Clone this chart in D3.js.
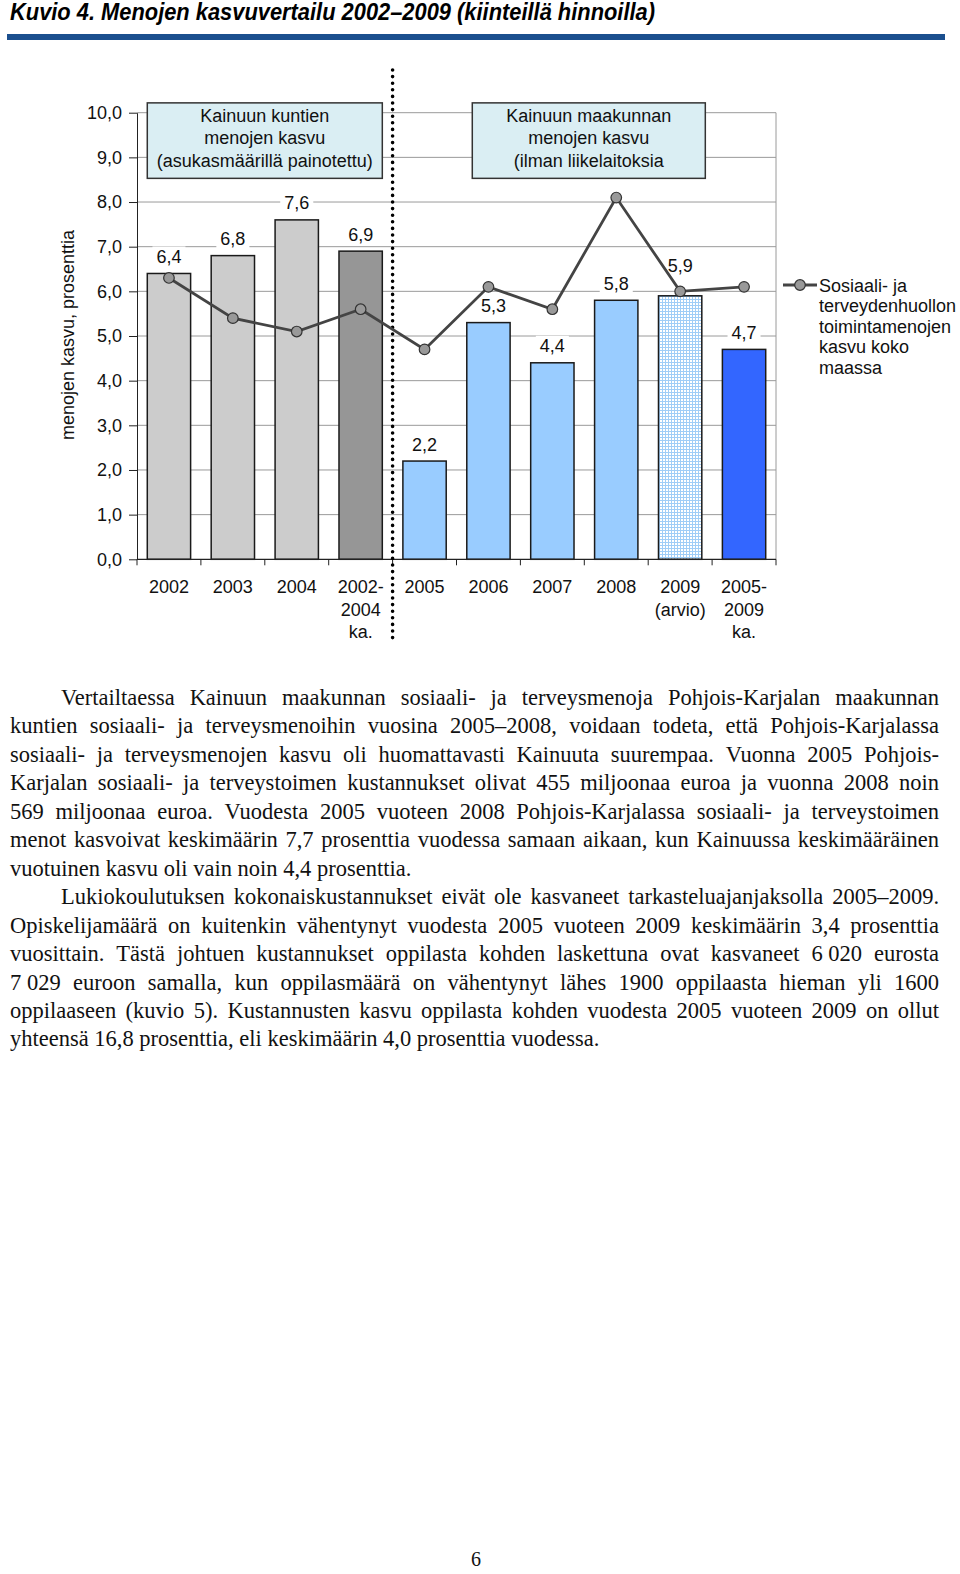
<!DOCTYPE html>
<html><head><meta charset="utf-8">
<script src="https://cdn.jsdelivr.net/npm/d3@7"></script>
<style>body{margin:0;background:#fff}svg{display:block}</style>
</head><body>
<script>
// ---------- data ----------
const categories = ["2002", "2003", "2004", "2002-\n2004\nka.", "2005", "2006", "2007", "2008", "2009\n(arvio)", "2005-\n2009\nka."];
const barValues  = [6.4, 6.8, 7.6, 6.9, 2.2, 5.3, 4.4, 5.8, 5.9, 4.7];
const lineValues = [6.3, 5.4, 5.1, 5.6, 4.7, 6.1, 5.6, 8.1, 6.0, 6.1];
const barPeriod  = ["kunnat", "kunnat", "kunnat", "kunnat", "maakunta", "maakunta", "maakunta", "maakunta", "maakunta", "maakunta"];
const barType    = ["vuosi", "vuosi", "vuosi", "ka", "vuosi", "vuosi", "vuosi", "vuosi", "arvio", "ka"];
const yTicks     = [0, 1, 2, 3, 4, 5, 6, 7, 8, 9, 10];
const lineName   = ["Sosiaali- ja", "terveydenhuollon", "toimintamenojen", "kasvu koko", "maassa"];
const box1Lines  = ["Kainuun kuntien", "menojen kasvu", "(asukasmäärillä painotettu)"];
const box2Lines  = ["Kainuun maakunnan", "menojen kasvu", "(ilman liikelaitoksia"];
const titleText  = "Kuvio 4. Menojen kasvuvertailu 2002–2009 (kiinteillä hinnoilla)";
const paragraphs = [
  ["Vertailtaessa Kainuun maakunnan sosiaali- ja terveysmenoja Pohjois-Karjalan maakunnan",
   "kuntien sosiaali- ja terveysmenoihin vuosina 2005–2008, voidaan todeta, että Pohjois-Karjalassa",
   "sosiaali- ja terveysmenojen kasvu oli huomattavasti Kainuuta suurempaa. Vuonna 2005 Pohjois-",
   "Karjalan sosiaali- ja terveystoimen kustannukset olivat 455 miljoonaa euroa ja vuonna 2008 noin",
   "569 miljoonaa euroa. Vuodesta 2005 vuoteen 2008 Pohjois-Karjalassa sosiaali- ja terveystoimen",
   "menot kasvoivat keskimäärin 7,7 prosenttia vuodessa samaan aikaan, kun Kainuussa keskimääräinen",
   "vuotuinen kasvu oli vain noin 4,4 prosenttia."],
  ["Lukiokoulutuksen kokonaiskustannukset eivät ole kasvaneet tarkasteluajanjaksolla 2005–2009.",
   "Opiskelijamäärä on kuitenkin vähentynyt vuodesta 2005 vuoteen 2009 keskimäärin 3,4 prosenttia",
   "vuosittain. Tästä johtuen kustannukset oppilasta kohden laskettuna ovat kasvaneet 6\u00A0020 eurosta",
   "7\u00A0029 euroon samalla, kun oppilasmäärä on vähentynyt lähes 1900 oppilaasta hieman yli 1600",
   "oppilaaseen (kuvio 5). Kustannusten kasvu oppilasta kohden vuodesta 2005 vuoteen 2009 on ollut",
   "yhteensä 16,8 prosenttia, eli keskimäärin 4,0 prosenttia vuodessa."]
];
const pageNumber = "6";

// ---------- setup ----------
const W = 960, H = 1574;
const SANS = "'Liberation Sans', Arial, sans-serif";
const SERIF = "'Liberation Serif', 'Times New Roman', serif";
const svg = d3.select("body").append("svg").attr("width", W).attr("height", H)
  .style("background", "#fff");
const fmt = v => d3.format(".1f")(v).replace(".", ",");

// pattern for estimate bar
const defs = svg.append("defs");
const pat = defs.append("pattern").attr("id", "checks").attr("patternUnits", "userSpaceOnUse")
  .attr("width", 3).attr("height", 3);
pat.append("rect").attr("width", 3).attr("height", 3).attr("fill", "#9fcdf7");
pat.append("rect").attr("width", 2).attr("height", 2).attr("fill", "#ffffff");

// title
svg.append("text").attr("x", 10).attr("y", 20).text(titleText)
  .attr("font-family", SANS).attr("font-weight", "bold").attr("font-style", "italic")
  .attr("font-size", 23.5).attr("textLength", 645).attr("lengthAdjust", "spacingAndGlyphs")
  .attr("fill", "#000");
svg.append("rect").attr("x", 7).attr("y", 34).attr("width", 938).attr("height", 6).attr("fill", "#1b4f8e");

// ---------- chart ----------
const x = d3.scaleBand().domain(categories).range([137, 776]).paddingInner(0.322).paddingOuter(0.161);
const y = d3.scaleLinear().domain([0, 10]).range([559.3, 112.7]);
const chart = svg.append("g").attr("font-family", SANS);

// gridlines
chart.append("g").selectAll("line").data(yTicks.filter(d => d > 0)).join("line")
  .attr("x1", x.range()[0]).attr("x2", x.range()[1])
  .attr("y1", d => y(d)).attr("y2", d => y(d))
  .attr("stroke", "#9a9a9a").attr("stroke-width", 1);
// right border
chart.append("line").attr("x1", x.range()[1]).attr("x2", x.range()[1])
  .attr("y1", y(10)).attr("y2", y(0)).attr("stroke", "#9a9a9a");

// annotation boxes
function annBox(x0, x1, lines) {
  const g = chart.append("g");
  g.append("rect").attr("x", x0).attr("y", y(10.22)).attr("width", x1 - x0).attr("height", y(8.53) - y(10.22))
    .attr("fill", "#daeef3").attr("stroke", "#333").attr("stroke-width", 1.5);
  g.selectAll("text").data(lines).join("text")
    .attr("x", (x0 + x1) / 2).attr("y", (d, i) => y(10.22) + 19 + i * 22.5)
    .attr("text-anchor", "middle").attr("font-size", 18).attr("fill", "#111").text(d => d);
}
annBox(x(categories[0]), x(categories[3]) + x.bandwidth(), box1Lines);
annBox(x(categories[5]) + 5.5, x(categories[8]) + x.bandwidth() + 3.5, box2Lines);

// bars
function barFill(i) {
  if (barType[i] === "arvio") return "url(#checks)";
  if (barPeriod[i] === "kunnat") return barType[i] === "ka" ? "#969696" : "#cccccc";
  return barType[i] === "ka" ? "#3366ff" : "#99ccff";
}
chart.append("g").selectAll("rect").data(barValues).join("rect")
  .attr("x", (d, i) => x(categories[i])).attr("width", x.bandwidth())
  .attr("y", d => y(d)).attr("height", d => y(0) - y(d))
  .attr("fill", (d, i) => barFill(i)).attr("stroke", "#1a1a1a").attr("stroke-width", 1.5);

// y axis
const yAxis = chart.append("g").attr("transform", `translate(${x.range()[0]},0)`)
  .call(d3.axisLeft(y).tickValues(yTicks).tickFormat(fmt).tickSize(8).tickSizeOuter(0).tickPadding(7));
yAxis.select(".domain").attr("stroke", "#222");
yAxis.selectAll(".tick line").attr("stroke", "#222");
yAxis.selectAll(".tick text").attr("font-size", 18).attr("font-family", SANS).attr("fill", "#111");

// x axis
chart.append("line").attr("x1", x.range()[0]).attr("x2", x.range()[1])
  .attr("y1", y(0)).attr("y2", y(0)).attr("stroke", "#222").attr("stroke-width", 1.2);
chart.append("g").selectAll("line").data(d3.range(categories.length + 1)).join("line")
  .attr("x1", i => x.range()[0] + i * x.step()).attr("x2", i => x.range()[0] + i * x.step())
  .attr("y1", y(0)).attr("y2", y(0) + 6).attr("stroke", "#222");
const xl = chart.append("g").selectAll("text").data(categories).join("text")
  .attr("text-anchor", "middle").attr("font-size", 18).attr("fill", "#111")
  .attr("transform", d => `translate(${x(d) + x.bandwidth() / 2},${y(0) + 34})`);
xl.each(function(d) {
  d3.select(this).selectAll("tspan").data(d.split("\n")).join("tspan")
    .attr("x", 0).attr("dy", (t, i) => i === 0 ? 0 : 22.3).text(t => t);
});

// y axis title
chart.append("text").attr("transform", `translate(74,${(y(0) + y(10)) / 2 - 1}) rotate(-90)`)
  .attr("text-anchor", "middle").attr("font-size", 18).attr("fill", "#111")
  .text("menojen kasvu, prosenttia");

// data labels
const labG = chart.append("g");
barValues.forEach((v, i) => {
  const cx = x(categories[i]) + x.bandwidth() / 2;
  const clash = lineValues[i] >= v && lineValues[i] - v < 0.5;
  const near = lineValues[i] > v && lineValues[i] - v < 1;
  const cy = y(v) - (clash ? 30 : 17);
  const tx = cx + (near && !clash ? 5 : 0);
  const t = labG.append("text").attr("x", tx).attr("y", cy + 6.5).attr("text-anchor", "middle")
    .attr("font-size", 18).attr("fill", "#111").text(fmt(v));
  const w = t.node().getComputedTextLength();
  labG.insert("rect", "text").attr("x", tx - w / 2 - 4).attr("y", cy - 10).attr("width", w + 8).attr("height", 20)
    .attr("fill", "#fff");
});
labG.selectAll("rect").lower();

// separator dotted line
const sepX = x.range()[0] + 4 * x.step();
chart.append("line").attr("x1", sepX).attr("x2", sepX).attr("y1", 70).attr("y2", 640)
  .attr("stroke", "#000").attr("stroke-width", 3.6).attr("stroke-linecap", "round")
  .attr("stroke-dasharray", "0 6.6");

// line series
const lineGen = d3.line().x((d, i) => x(categories[i]) + x.bandwidth() / 2).y(d => y(d));
chart.append("path").datum(lineValues).attr("d", lineGen)
  .attr("fill", "none").attr("stroke", "#444").attr("stroke-width", 2.8);
chart.append("g").selectAll("circle").data(lineValues).join("circle")
  .attr("cx", (d, i) => x(categories[i]) + x.bandwidth() / 2).attr("cy", d => y(d)).attr("r", 5.3)
  .attr("fill", "#999").attr("stroke", "#333").attr("stroke-width", 1.2);

// legend
const lg = chart.append("g");
lg.append("line").attr("x1", 783).attr("x2", 817).attr("y1", 285).attr("y2", 285)
  .attr("stroke", "#444").attr("stroke-width", 2.8);
lg.append("circle").attr("cx", 800).attr("cy", 285).attr("r", 5.3)
  .attr("fill", "#999").attr("stroke", "#333").attr("stroke-width", 1.2);
lg.selectAll("text").data(lineName).join("text")
  .attr("x", 819).attr("y", (d, i) => 291.5 + i * 20.5)
  .attr("font-size", 18).attr("fill", "#111").text(d => d);

// ---------- body text ----------
const body = svg.append("g").attr("font-family", SERIF).attr("font-size", 22.5).attr("fill", "#111");
const LEFT = 10, RIGHT = 939, INDENT = 61, LH = 28.45;
let baseline = 705;
paragraphs.forEach(par => {
  par.forEach((line, li) => {
    const x0 = li === 0 ? INDENT : LEFT;
    const justify = li < par.length - 1;
    const words = line.split(" ");
    const nodes = words.map(w => body.append("text").attr("y", baseline).text(w));
    const widths = nodes.map(n => n.node().getComputedTextLength());
    const total = d3.sum(widths);
    const gap = justify ? (RIGHT - x0 - total) / (words.length - 1) : 22.5 * 0.25;
    let cx = x0;
    nodes.forEach((n, i) => { n.attr("x", cx); cx += widths[i] + gap; });
    baseline += LH;
  });
});

// page number
svg.append("text").attr("x", 476).attr("y", 1566).attr("text-anchor", "middle")
  .attr("font-family", SERIF).attr("font-size", 20).attr("fill", "#111").text(pageNumber);
</script>
</body></html>
